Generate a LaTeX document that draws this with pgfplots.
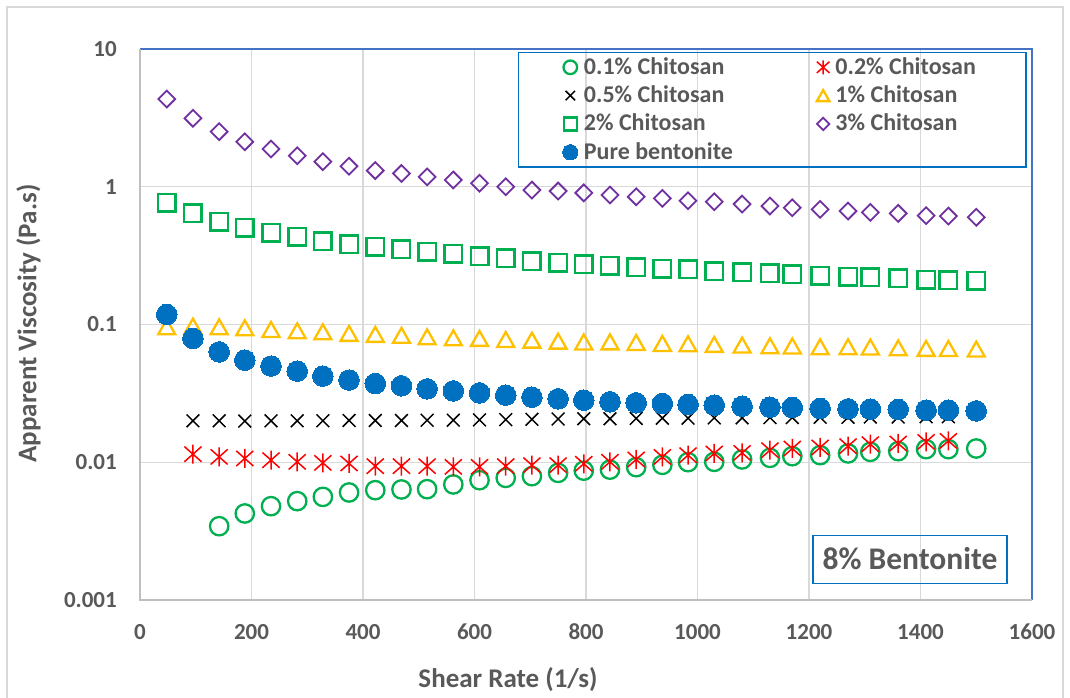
\documentclass[border=0pt]{standalone}
\usepackage{pgfplots}
\pgfplotsset{compat=1.18}
\usepackage{fontspec}
\setmainfont{Carlito}
\definecolor{txt}{RGB}{89,89,89}
\definecolor{gridg}{RGB}{217,217,217}
\definecolor{axg}{RGB}{191,191,191}
\definecolor{frameblue}{RGB}{68,114,196}
\definecolor{boxblue}{RGB}{0,112,192}
\definecolor{cgreen}{RGB}{0,176,80}
\definecolor{cred}{RGB}{255,0,0}
\definecolor{cgold}{RGB}{255,192,0}
\definecolor{cpurple}{RGB}{112,48,160}
\definecolor{cblue}{RGB}{0,112,192}
\pgfdeclareplotmark{exstar}{%
  \pgfpathmoveto{\pgfqpoint{0pt}{\pgfplotmarksize}}%
  \pgfpathlineto{\pgfqpoint{0pt}{-\pgfplotmarksize}}%
  \pgfpathmoveto{\pgfqpoint{-0.9\pgfplotmarksize}{-0.8\pgfplotmarksize}}%
  \pgfpathlineto{\pgfqpoint{0.9\pgfplotmarksize}{0.8\pgfplotmarksize}}%
  \pgfpathmoveto{\pgfqpoint{-0.9\pgfplotmarksize}{0.8\pgfplotmarksize}}%
  \pgfpathlineto{\pgfqpoint{0.9\pgfplotmarksize}{-0.8\pgfplotmarksize}}%
  \pgfusepathqstroke}
\pgfdeclareplotmark{btri}{%
  \pgfpathmoveto{\pgfqpoint{0pt}{0.88\pgfplotmarksize}}%
  \pgfpathlineto{\pgfqpoint{\pgfplotmarksize}{-0.88\pgfplotmarksize}}%
  \pgfpathlineto{\pgfqpoint{-\pgfplotmarksize}{-0.88\pgfplotmarksize}}%
  \pgfpathclose\pgfusepathqstroke}
\pgfdeclareplotmark{dmd}{%
  \pgfpathmoveto{\pgfqpoint{0pt}{\pgfplotmarksize}}%
  \pgfpathlineto{\pgfqpoint{\pgfplotmarksize}{0pt}}%
  \pgfpathlineto{\pgfqpoint{0pt}{-\pgfplotmarksize}}%
  \pgfpathlineto{\pgfqpoint{-\pgfplotmarksize}{0pt}}%
  \pgfpathclose\pgfusepathqstroke}
\begin{document}
\begin{tikzpicture}
\begin{axis}[
  scale only axis, width=892pt, height=551pt,
  xmin=0, xmax=1600, ymode=log, ymin=0.001, ymax=10,
  xtick={0,200,400,600,800,1000,1200,1400,1600},
  xticklabels={0,200,400,600,800,1000,1200,1400,1600},
  ytick={0.001,0.01,0.1,1,10},
  yticklabels={0.001,0.01,0.1,1,10},
  minor ytick={},
  major tick length=0pt, minor tick length=0pt,
  grid=major, major grid style={draw=gridg, line width=1.4pt},
  axis line style={draw=none},
  clip=false,
  xticklabel style={font=\fontsize{23}{27}\selectfont\bfseries, text=txt, anchor=north, inner sep=0pt, yshift=-25pt, text height=14.6pt, text depth=0pt},
  yticklabel style={font=\fontsize{23}{27}\selectfont\bfseries, text=txt, anchor=east, inner sep=0pt, xshift=-23pt, text height=14.6pt, text depth=0pt},
  legend columns=2, legend cell align=left,
  legend image code/.code={\draw[mark repeat=2,mark phase=2,#1] plot coordinates {(0pt,0pt) (6pt,0pt) (12pt,0pt)};},
  legend image post style={/tikz/every mark/.append style={scale=0.74}},
  legend style={draw=boxblue, line width=1.3pt, fill=none,
    at={(axis description cs:0.4238,0.99456)}, anchor=north west,
    inner xsep=44pt, inner ysep=0.5pt,
    font=\fontsize{24}{28}\selectfont\bfseries, text=txt,
    nodes={inner ysep=0pt, inner xsep=6pt, text height=21pt, text depth=7.3pt},
    /tikz/column 2/.style={column sep=78pt}},
]
\addplot[only marks, mark=o, mark size=9.2pt, line width=2.3pt, color=cgreen] coordinates {
(142,0.003435)(188,0.004248)(235,0.004800)(282,0.005219)(328,0.005607)(375,0.006035)(422,0.006272)(469,0.006346)(515,0.006378)(562,0.006900)(609,0.007413)(656,0.007703)(703,0.007925)(750,0.008375)(796,0.008690)(843,0.008835)(890,0.009213)(937,0.009575)(983,0.01002)(1030,0.01007)(1080,0.01048)(1130,0.01076)(1170,0.01107)(1220,0.01126)(1270,0.01159)(1310,0.01190)(1360,0.01204)(1410,0.01245)(1450,0.01245)(1500,0.01259)};
\addlegendentry{0.1\% Chitosan}
\addplot[only marks, mark=exstar, mark size=9.5pt, line width=1.5pt, color=cred] coordinates {
(95,0.01145)(142,0.01094)(188,0.01066)(235,0.01036)(282,0.01007)(328,0.00990)(375,0.00980)(422,0.00937)(469,0.00937)(515,0.00937)(562,0.00926)(609,0.00926)(656,0.00937)(703,0.00953)(750,0.00953)(796,0.00975)(843,0.01007)(890,0.01048)(937,0.01094)(983,0.01126)(1030,0.01159)(1080,0.01170)(1130,0.01224)(1170,0.01259)(1220,0.01281)(1270,0.01309)(1310,0.01353)(1360,0.01369)(1410,0.01406)(1450,0.01430)};
\addlegendentry{0.2\% Chitosan}
\addplot[only marks, mark=x, mark size=9pt, line width=1.5pt, color=black] coordinates {
(95,0.0200)(142,0.0200)(188,0.0199)(235,0.0200)(282,0.0200)(328,0.0200)(375,0.0201)(422,0.0201)(469,0.0201)(515,0.0202)(562,0.0202)(609,0.0203)(656,0.0204)(703,0.0205)(750,0.0206)(796,0.0207)(843,0.0207)(890,0.0208)(937,0.0209)(983,0.0209)(1030,0.0210)(1080,0.0210)(1130,0.0211)(1170,0.0211)(1220,0.0212)(1270,0.0212)(1310,0.0213)(1360,0.0213)(1410,0.0214)(1450,0.0214)};
\addlegendentry{0.5\% Chitosan}
\addplot[only marks, mark=btri, mark size=8.5pt, line width=2.3pt, color=cgold] coordinates {
(48,0.0962)(95,0.0974)(142,0.0962)(188,0.0946)(235,0.0921)(282,0.0900)(328,0.0885)(375,0.0862)(422,0.0848)(469,0.0834)(515,0.0814)(562,0.0800)(609,0.0793)(656,0.0779)(703,0.0770)(750,0.0757)(796,0.0747)(843,0.0748)(890,0.0741)(937,0.0729)(983,0.0725)(1030,0.0717)(1080,0.0709)(1130,0.0701)(1170,0.0699)(1220,0.0689)(1270,0.0689)(1310,0.0687)(1360,0.0677)(1410,0.0671)(1450,0.0670)(1500,0.0663)};
\addlegendentry{1\% Chitosan}
\addplot[only marks, mark=square, mark size=8.75pt, line width=2.5pt, color=cgreen] coordinates {
(48,0.765)(95,0.641)(142,0.557)(188,0.504)(235,0.463)(282,0.433)(328,0.403)(375,0.384)(422,0.367)(469,0.351)(515,0.337)(562,0.325)(609,0.314)(656,0.302)(703,0.289)(750,0.281)(796,0.274)(843,0.267)(890,0.260)(937,0.255)(983,0.251)(1030,0.244)(1080,0.239)(1130,0.235)(1170,0.231)(1220,0.225)(1270,0.222)(1310,0.220)(1360,0.216)(1410,0.212)(1450,0.210)(1500,0.207)};
\addlegendentry{2\% Chitosan}
\addplot[only marks, mark=dmd, mark size=8.4pt, line width=1.8pt, color=cpurple] coordinates {
(48,4.33)(95,3.14)(142,2.51)(188,2.12)(235,1.88)(282,1.68)(328,1.52)(375,1.41)(422,1.31)(469,1.25)(515,1.18)(562,1.12)(609,1.06)(656,1.00)(703,0.946)(750,0.931)(796,0.903)(843,0.871)(890,0.846)(937,0.824)(983,0.791)(1030,0.778)(1080,0.749)(1130,0.724)(1170,0.704)(1220,0.685)(1270,0.666)(1310,0.652)(1360,0.641)(1410,0.617)(1450,0.613)(1500,0.600)};
\addlegendentry{3\% Chitosan}
\addplot[only marks, mark=*, mark size=10.3pt, line width=0pt, color=cblue] coordinates {
(48,0.1184)(95,0.0793)(142,0.0633)(188,0.0551)(235,0.0499)(282,0.0459)(328,0.0422)(375,0.0395)(422,0.0373)(469,0.0359)(515,0.0341)(562,0.0330)(609,0.0319)(656,0.0307)(703,0.0297)(750,0.0289)(796,0.0282)(843,0.0275)(890,0.0270)(937,0.0267)(983,0.0263)(1030,0.0260)(1080,0.0255)(1130,0.0251)(1170,0.0250)(1220,0.0246)(1270,0.0244)(1310,0.0243)(1360,0.0242)(1410,0.0239)(1450,0.0239)(1500,0.0236)};
\addlegendentry{Pure bentonite}
\draw[frameblue, line width=1.4pt] (rel axis cs:0,1) -- (rel axis cs:1,1) -- (rel axis cs:1,0);
\draw[axg, line width=2pt] (rel axis cs:0,1) -- (rel axis cs:0,0) -- (rel axis cs:1,0);
\end{axis}
\node[font=\fontsize{27}{32}\selectfont\bfseries, text=txt, inner sep=0pt, text height=17.4pt, text depth=0pt] at (368pt,-79pt) {Shear Rate (1/s)};
\node[rotate=90, font=\fontsize{27}{32}\selectfont\bfseries, text=txt, inner sep=0pt, text height=17.4pt, text depth=0pt] at (-112.2pt,276.5pt) {Apparent Viscosity (Pa.s)};
\node[draw=boxblue, line width=1.3pt, minimum width=194pt, minimum height=47.6pt, inner sep=0pt, text height=20.3pt, text depth=0pt, font=\fontsize{31.5}{36}\selectfont\bfseries, text=txt] at (770pt,40.5pt) {8\% Bentonite};
\draw[gridg, line width=1.3pt] (-133pt,-100pt) -- (-133pt,593pt) -- (923pt,593pt) -- (923pt,-100pt);
\pgfresetboundingbox
\useasboundingbox (-140pt,-97pt) rectangle (930pt,600pt);
\end{tikzpicture}
\end{document}
